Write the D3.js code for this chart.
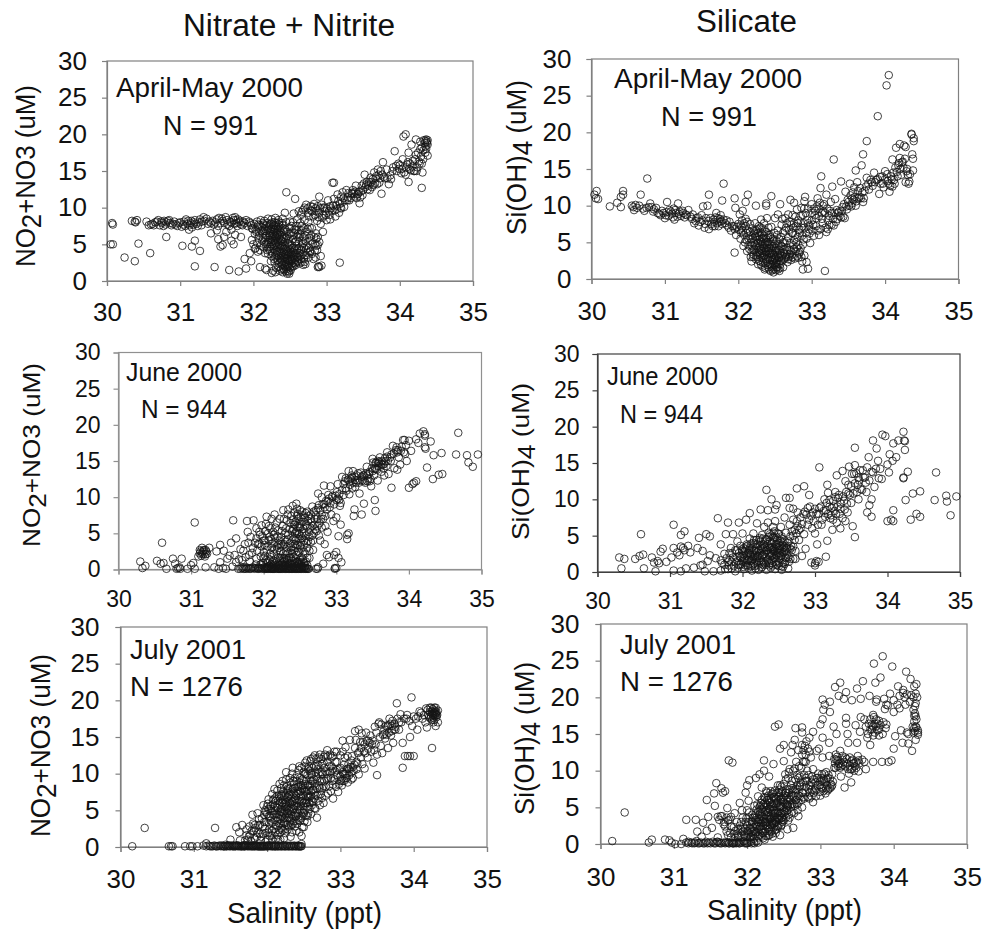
<!DOCTYPE html>
<html>
<head>
<meta charset="utf-8">
<script src="https://d3js.org/d3.v7.min.js"></script>
<style>
  html, body { margin: 0; padding: 0; background: #fff; }
  text { font-family: "Liberation Sans", Arial, sans-serif; fill: #111; }
</style>
</head>
<body>
<div id="chart"></div>
<script>
const xTicks = [30, 31, 32, 33, 34, 35];
const yTicks = [0, 5, 10, 15, 20, 25, 30];

// values: [salinity, concentration]
const aprNitrate = [
[30.07,7.9],[30.08,7.7],[30.05,5.0],[30.08,5.0],[30.24,3.2],[30.38,2.7],[30.34,8.2],[30.39,8.0],[30.41,8.3],[30.38,8.1],[30.43,5.1],[30.59,3.8],[30.54,8.1],[30.57,7.6],[30.6,7.7],
[30.62,7.8],[30.66,8.0],[30.7,8.3],[30.72,7.6],[30.75,7.9],[30.78,8.2],[30.8,7.7],[30.83,8.2],[30.86,7.9],[30.9,7.8],[30.94,7.7],[30.98,7.9],[31.02,7.4],[31.05,8.1],[31.08,8.4],[31.1,7.8],[31.13,7.6],[31.15,8.2],[31.12,7.0],[31.18,7.7],[31.2,8.3],[31.24,7.5],[31.27,8.4],[31.3,8.1],[31.32,8.7],[31.36,8.5],[31.4,8.1],[31.42,7.9],[31.46,7.7],[31.5,8.4],[31.53,8.6],[31.55,7.9],[31.58,8.2],[31.62,8.7],[31.65,7.7],[31.68,8.1],[31.72,8.6],[31.74,7.8],[31.76,8.3],[31.78,7.5],[31.8,8.0],[31.83,7.7],[31.86,8.1],[31.9,8.3],[31.92,7.5],[31.96,7.9],[31.98,7.2],
[30.81,6.0],[31.03,4.8],[31.16,4.7],[31.2,5.5],[31.27,4.1],[31.2,2.0],[31.47,1.9],[31.52,5.7],[31.55,4.7],[31.58,4.9],[31.6,6.0],[31.67,1.5],[31.7,5.5],[31.73,5.0],[31.75,6.3],[31.8,1.3],[31.83,6.0],[31.88,3.0],[31.9,1.7],[31.95,3.8],[31.97,2.7],[31.42,6.5],[31.5,6.9],[31.63,6.7],[31.7,7.0],
[32.01,7.8],[31.99,7.1],[32.02,6.4],[31.98,5.6],[32.0,5.0],[32.02,4.4],[32.05,8.1],[32.06,7.4],[32.04,6.7],[32.07,5.9],[32.05,5.2],[32.03,4.5],[32.06,4.0],[32.1,8.3],[32.09,7.6],[32.11,6.9],[32.08,6.2],[32.12,5.5],[32.1,4.8],[32.09,4.2],
[32.15,8.2],[32.14,7.7],[32.16,7.1],[32.13,6.5],[32.17,5.9],[32.15,5.3],[32.14,4.6],[32.16,3.8],[32.09,1.9],[32.2,8.5],[32.19,7.9],[32.21,7.3],[32.18,6.8],[32.22,6.2],[32.2,5.6],[32.19,5.0],[32.21,4.4],[32.2,3.7],[32.16,1.7],[32.18,1.5],
[32.25,8.4],[32.24,7.8],[32.26,7.4],[32.23,6.9],[32.27,6.4],[32.25,5.8],[32.24,5.3],[32.26,4.7],[32.23,4.1],[32.25,3.4],[32.24,2.7],[32.27,1.4],[32.25,1.1],
[32.3,8.6],[32.29,8.0],[32.31,7.5],[32.28,7.0],[32.32,6.5],[32.3,6.0],[32.29,5.5],[32.31,5.0],[32.28,4.4],[32.32,3.9],[32.3,3.2],[32.29,2.5],[32.31,1.8],[32.3,1.2],
[32.35,8.0],[32.34,7.4],[32.36,6.9],[32.33,6.3],[32.37,5.7],[32.35,5.1],[32.34,4.6],[32.36,4.1],[32.33,3.5],[32.37,3.0],[32.35,2.4],[32.34,1.9],[32.36,1.4],
[32.4,8.5],[32.39,7.9],[32.41,7.2],[32.38,6.6],[32.42,6.0],[32.4,5.4],[32.39,4.8],[32.41,4.3],[32.38,3.8],[32.42,3.2],[32.4,2.7],[32.39,2.2],[32.41,1.7],[32.4,1.2],
[32.45,8.0],[32.44,7.0],[32.46,6.1],[32.43,5.3],[32.47,4.6],[32.45,4.1],[32.44,3.6],[32.46,3.1],[32.43,2.6],[32.47,2.1],[32.45,1.6],[32.46,1.0],[32.43,9.3],[32.45,12.1],
[32.5,8.1],[32.49,7.3],[32.51,6.6],[32.48,5.7],[32.52,4.9],[32.5,4.3],[32.49,3.8],[32.51,3.3],[32.48,2.8],[32.52,2.3],[32.5,1.8],[32.49,1.3],
[32.55,9.2],[32.54,8.0],[32.56,7.0],[32.53,6.2],[32.57,5.3],[32.55,4.5],[32.54,3.9],[32.56,3.4],[32.53,2.9],[32.57,2.4],[32.55,2.0],[32.57,11.2],
[32.6,8.4],[32.59,7.5],[32.61,6.4],[32.58,5.4],[32.62,4.5],[32.6,3.8],[32.59,3.3],[32.61,2.7],[32.58,2.2],
[32.65,9.0],[32.64,7.9],[32.66,6.9],[32.63,5.9],[32.67,5.0],[32.65,4.2],[32.64,3.4],[32.66,2.6],[32.68,2.2],
[32.7,8.3],[32.69,7.2],[32.71,6.2],[32.68,5.2],[32.72,4.3],[32.7,3.5],[32.69,3.0],[32.71,2.3],
[32.75,8.0],[32.74,7.1],[32.76,5.9],[32.73,4.8],[32.77,4.0],[32.75,3.2],[32.8,7.2],[32.79,6.2],[32.81,5.1],[32.78,4.1],[32.82,3.0],[32.85,6.5],[32.84,5.0],[32.86,4.8],[32.85,3.2],[32.88,6.0],[32.89,2.0],[32.88,1.9],[32.9,1.9],[32.92,3.4],[32.93,2.1],[32.87,4.2],[32.9,5.3],[32.95,6.7],[33.18,2.5],
[32.62,9.5],[32.68,9.7],[32.72,10.4],[32.75,9.3],[32.78,10.2],[32.8,9.5],[32.82,8.8],[32.83,10.5],[32.85,9.9],[32.87,8.2],[32.88,10.2],[32.9,11.5],[32.9,9.3],[32.92,7.8],[32.95,10.0],[32.96,8.9],[32.98,9.5],[33.0,8.3],[33.02,11.0],[33.03,9.5],[33.05,8.4],[33.05,10.2],[33.08,13.4],[33.1,13.4],[33.08,9.6],[33.1,11.2],[33.12,8.8],[33.13,10.3],[33.15,11.8],[33.17,9.3],[33.18,10.5],[33.2,11.5],[33.2,9.9],[33.22,12.1],[33.24,10.1],[33.27,12.4],[33.28,11.0],[33.3,12.0],
[33.33,11.3],[33.35,11.9],[33.36,12.4],[33.38,11.5],[33.4,13.0],[33.42,11.8],[33.44,12.2],[33.45,10.6],[33.46,11.4],[33.48,13.0],[33.5,12.4],[33.52,14.5],[33.54,13.1],[33.56,12.5],[33.58,13.5],[33.6,14.1],[33.62,12.8],[33.63,13.9],[33.65,14.8],[33.66,13.3],[33.68,14.3],[33.7,15.2],[33.72,13.4],[33.75,11.9],[33.76,14.5],[33.77,16.2],[33.8,14.0],[33.82,15.2],[33.85,13.2],[33.88,13.9],[33.9,15.0],[33.93,17.7],[33.95,15.7],[33.98,16.0],[34.0,15.8],[34.02,14.7],[34.04,16.6],[34.05,19.7],[34.08,20.0],[34.08,14.5],[34.1,15.9],[34.12,13.5],[34.12,17.5],[34.14,16.0],[34.15,15.1],[34.16,18.6],[34.18,16.4],[34.2,15.0],[34.22,17.2],[34.22,19.3],[34.24,15.5],[34.26,16.3],[34.28,18.0],[34.28,19.0],[34.3,12.7],[34.3,16.0],[34.31,14.8],[34.32,17.8],[34.33,19.2],[34.35,18.3],[34.35,17.5],[34.36,19.3],[34.37,19.0],[34.38,17.1],[34.38,18.6]
];

// second pass over the dense parts of the same panel
const aprNitrateDense = [
[30.64,7.6],[30.68,8.1],[30.74,8.1],[30.77,7.5],[30.81,8.0],[30.85,8.3],[30.88,7.6],[30.92,8.1],[30.96,7.5],[31.0,8.0],[31.04,7.7],[31.07,7.5],[31.11,8.2],[31.14,7.9],[31.16,7.3],[31.19,8.0],[31.22,7.8],[31.26,8.0],[31.29,7.6],[31.33,8.2],[31.38,7.8],[31.44,8.2],[31.48,8.0],[31.52,7.5],[31.57,8.5],[31.6,7.9],[31.64,8.3],[31.67,7.5],[31.7,8.0],[31.73,8.3],[31.75,8.7],[31.77,7.9],[31.79,8.4],[31.82,8.2],[31.85,7.6],[31.88,7.9],[31.94,8.1],[31.97,7.6],
[32.03,7.0],[32.07,7.7],[32.08,6.6],[32.12,7.3],[32.13,5.9],[32.13,7.9],[32.15,6.8],[32.17,7.5],[32.17,5.0],[32.18,6.2],[32.19,4.2],[32.2,7.0],[32.2,5.3],[32.22,7.7],[32.22,6.5],[32.23,5.6],[32.23,4.7],[32.24,7.1],[32.25,6.1],[32.25,5.0],[32.26,3.8],[32.26,8.0],[32.27,6.7],[32.27,5.5],[32.28,7.6],[32.28,4.9],[32.28,3.0],[32.29,6.2],[32.29,7.2],[32.3,5.2],[32.3,6.8],[32.3,4.2],[32.31,5.8],[32.31,7.9],[32.31,3.6],[32.32,6.1],[32.32,4.7],[32.33,7.0],[32.33,5.4],[32.33,2.8],[32.34,6.6],[32.34,4.0],[32.34,8.3],[32.35,5.8],[32.35,3.2],[32.35,7.7],[32.36,4.9],[32.36,6.3],[32.37,2.6],[32.37,7.2],[32.37,4.4],[32.38,5.5],[32.38,3.4],[32.38,1.6],[32.39,6.2],[32.39,2.9],[32.4,7.6],[32.4,4.6],[32.4,3.6],[32.41,5.7],[32.41,2.3],[32.42,6.8],[32.42,4.0],[32.42,1.5],[32.43,3.0],[32.43,4.8],[32.43,2.0],[32.44,5.9],[32.44,3.3],[32.44,1.3],[32.45,2.4],[32.45,4.4],[32.45,6.7],[32.46,3.7],[32.46,1.9],[32.47,2.8],[32.47,5.2],[32.47,1.3],[32.48,3.5],[32.48,2.0],[32.48,4.0],[32.49,6.4],[32.49,2.5],[32.49,1.0],[32.5,3.0],[32.5,5.0],[32.51,3.9],[32.51,1.5],[32.52,2.7],[32.52,3.6],[32.52,7.5],[32.53,4.5],[32.53,2.0],[32.54,3.1],[32.54,5.7],[32.55,2.5],[32.55,3.6],[32.56,4.2],[32.56,6.5],[32.57,2.9],[32.57,3.8],[32.58,7.0],[32.58,4.8],[32.59,2.6],[32.6,4.2],[32.6,6.0],[32.61,3.2],[32.62,5.3],[32.62,7.0],[32.63,3.8],[32.63,2.4],[32.64,6.4],[32.65,3.0],[32.66,4.7],[32.66,7.5],[32.67,3.7],[32.68,6.0],[32.69,4.5],[32.7,2.6],[32.71,5.5],[32.72,3.5],[32.73,6.7],[32.74,3.9],[32.76,4.5],[32.77,7.3],[32.78,5.5],[32.8,3.7],[32.83,6.0],[32.84,4.2],[32.86,5.8],[32.88,4.9],
[32.66,9.4],[32.7,10.0],[32.74,9.9],[32.76,8.8],[32.79,9.6],[32.81,10.1],[32.84,9.0],[32.86,9.5],[32.89,8.7],[32.91,9.9],[32.93,10.4],[32.94,8.6],[32.97,10.0],[32.99,9.0],[33.0,9.9],[33.04,9.0],[33.06,9.9],[33.09,10.3],[33.11,9.6],[33.14,9.8],[33.16,10.9],[33.19,10.0],[33.21,10.7],[33.23,11.3],[33.25,11.0],[33.29,11.4],[33.31,11.0],[33.34,12.0],[33.37,11.9],[33.39,12.2],[33.41,11.3],[33.43,11.9],[33.47,12.2],[33.49,11.7],[33.51,13.3],[33.53,12.8],[33.55,13.5],[33.57,13.0],[33.59,12.4],[33.61,13.5],[33.64,13.1],[33.67,14.0],[33.69,13.2],[33.71,14.5],[33.73,14.0],[33.74,15.0],[33.78,14.2],[33.83,14.0],[33.87,14.4],[33.91,15.5],[33.96,15.0],[33.99,15.3],[34.03,15.3],[34.06,14.8],[34.09,15.5],[34.11,16.2],[34.13,15.3],[34.17,15.6],[34.19,15.0],[34.21,16.6],[34.23,15.0],[34.25,17.5],[34.27,16.0],[34.29,17.0],[34.3,18.2],[34.32,16.6],[34.34,18.8],[34.35,19.1],[34.36,18.0],[34.37,18.8],[34.38,19.2]
];

const aprSilicate = [
[30.04,11.5],[30.07,12.0],[30.06,11.0],[30.09,10.9],[30.25,9.9],[30.35,10.4],[30.4,9.8],[30.4,11.2],[30.43,11.5],[30.43,12.0],[30.55,10.0],[30.57,9.8],[30.58,9.4],[30.62,9.7],[30.67,11.5],[30.76,13.7],[30.6,10.1],[30.65,10.0],[30.7,9.6],[30.72,9.3],[30.75,9.7],[30.8,10.3],[30.82,9.8],[30.85,9.5],[30.9,9.0],[30.92,8.9],[30.96,9.3],[31.0,8.3],[31.02,9.1],[31.03,10.5],[31.06,9.4],[31.1,8.9],[31.12,9.6],[31.13,8.1],[31.15,9.0],[31.18,10.3],[31.2,9.2],[31.22,8.6],[31.25,9.0],[31.28,8.8],[31.32,9.4],[31.35,8.5],[31.38,8.8],[31.4,7.6],[31.43,8.3],[31.46,7.3],[31.5,8.7],[31.52,9.9],[31.54,7.0],[31.56,8.3],[31.58,10.0],[31.6,11.5],[31.6,6.8],[31.63,7.5],[31.66,8.1],[31.68,7.2],[31.7,9.0],[31.72,8.3],[31.74,7.8],[31.76,8.7],[31.78,7.5],[31.8,8.1],[31.78,10.7],[31.8,13.0],[31.85,7.3],[31.88,7.8],[31.9,6.6],[31.94,7.2],[31.95,11.0],[31.96,9.7],[31.97,6.0],[31.95,3.6],[32.0,7.5],[32.02,8.8],[32.04,6.3],[32.05,8.0],[32.1,10.5],[32.13,11.5],[32.06,9.3],
[32.03,5.5],[32.05,7.0],[32.07,4.5],[32.08,6.0],[32.1,8.2],[32.1,7.2],[32.11,5.3],[32.12,3.8],[32.13,6.6],[32.14,4.6],[32.15,5.9],[32.16,7.5],[32.17,3.0],[32.17,5.0],[32.18,2.4],[32.19,6.9],[32.2,4.0],[32.2,5.6],[32.21,3.3],[32.22,6.2],[32.23,7.6],[32.23,4.7],[32.24,2.7],[32.24,10.0],[32.25,5.3],[32.25,3.6],[32.26,6.8],[32.27,2.0],[32.27,4.2],[32.28,5.9],[32.28,7.2],[32.29,3.2],[32.3,4.8],[32.3,6.4],[32.3,2.4],[32.31,8.1],[32.32,5.5],[32.32,3.8],[32.33,1.7],[32.33,6.9],[32.34,4.4],[32.34,2.9],[32.35,5.9],[32.35,7.6],[32.36,3.3],[32.36,1.3],[32.37,5.0],[32.37,2.2],[32.38,6.4],[32.38,10.3],[32.38,10.0],[32.38,3.9],[32.39,8.3],[32.39,4.6],[32.4,2.7],[32.4,5.6],[32.41,1.6],[32.41,7.0],[32.42,3.4],[32.42,4.2],[32.43,6.0],[32.43,2.1],[32.44,1.1],[32.44,5.0],[32.45,3.0],[32.45,7.1],[32.45,11.3],[32.46,3.8],[32.46,1.6],[32.47,5.5],[32.47,2.5],[32.48,4.5],[32.48,0.9],[32.49,6.3],[32.49,3.3],[32.5,1.9],[32.5,8.3],[32.5,2.8],[32.51,4.0],[32.51,1.2],[32.52,5.2],[32.52,2.2],[32.53,3.5],[32.53,1.6],[32.54,6.6],[32.54,8.8],[32.55,2.9],[32.55,4.7],[32.56,1.1],[32.56,3.9],[32.57,10.2],[32.57,2.0],[32.58,5.7],[32.58,3.2],[32.59,7.4],[32.6,4.4],[32.6,2.5],[32.61,1.6],[32.61,6.3],[32.62,3.6],[32.63,5.0],[32.64,2.9],[32.64,8.3],[32.65,7.0],[32.66,3.4],[32.66,4.3],[32.67,2.3],[32.68,5.6],[32.69,3.0],[32.7,7.8],[32.7,4.0],[32.71,10.8],[32.72,2.6],[32.73,6.3],[32.73,3.3],[32.74,8.7],[32.75,4.6],[32.76,5.3],[32.76,10.4],[32.77,2.8],[32.78,3.8],[32.79,7.2],[32.8,9.5],[32.8,4.3],[32.81,5.7],[32.82,2.9],[32.83,3.5],[32.84,6.3],[32.85,8.6],[32.85,4.2],[32.86,9.7],[32.87,2.4],[32.88,1.3],[32.88,4.7],[32.89,7.6],[32.9,3.2],[32.9,10.6],[32.91,11.2],[32.93,2.3],[32.92,9.0],[32.95,1.4],[32.93,5.5],[32.96,6.8],[32.98,4.9],[33.0,10.2],[33.0,8.0],[33.03,5.9],[33.05,9.3],[33.06,7.2],[33.08,11.0],[33.1,6.0],[33.1,8.6],[33.12,12.4],[33.13,14.0],[33.14,9.0],[33.15,7.6],[33.17,10.2],[33.18,1.1],[33.2,11.5],[33.2,6.4],[33.22,8.0],[33.25,9.3],[33.26,10.5],[33.28,12.6],[33.3,16.3],[33.3,7.3],[33.32,10.9],[33.35,8.2],[33.37,9.2],[33.4,13.3],[33.4,8.4],[33.42,9.8],[33.45,8.3],[33.46,11.9],[33.48,9.5],[33.5,10.5],[33.52,13.0],[33.54,9.9],[33.55,11.0],[33.56,11.8],[33.58,12.5],[33.6,10.0],[33.6,14.8],[33.62,13.2],[33.64,11.0],[33.66,12.4],[33.68,15.5],[33.7,17.0],[33.7,10.5],[33.72,12.0],[33.75,13.8],[33.75,18.8],[33.78,12.2],[33.82,13.2],[33.85,14.5],[33.88,13.5],[33.9,22.2],[33.92,11.6],[33.94,13.0],[33.96,14.0],[33.98,12.5],[34.0,14.7],[34.02,26.4],[34.04,13.4],[34.05,27.8],[34.06,11.9],[34.08,14.0],[34.1,12.6],[34.1,16.3],[34.12,13.5],[34.15,17.9],[34.16,14.6],[34.18,15.5],[34.2,18.4],[34.2,16.5],[34.22,14.2],[34.24,16.0],[34.26,18.2],[34.28,13.2],[34.28,18.0],[34.3,15.0],[34.32,13.0],[34.34,14.3],[34.36,19.8],[34.36,19.7],[34.37,17.0],[34.38,16.4],[34.38,14.8],[34.39,19.2],[34.39,18.8]
];

const aprSilicateDense = [
[30.78,9.8],[30.84,9.2],[30.88,9.7],[30.94,8.7],[30.98,9.0],[31.01,8.7],[31.05,8.6],[31.08,9.2],[31.11,8.4],[31.14,9.4],[31.17,8.5],[31.19,8.9],[31.24,9.3],[31.27,8.4],[31.3,8.7],[31.37,8.2],[31.42,7.9],[31.45,8.4],[31.48,7.8],[31.51,8.0],[31.55,7.5],[31.59,7.9],[31.62,8.3],[31.65,7.2],[31.67,7.8],[31.69,8.4],[31.71,7.6],[31.73,7.2],[31.75,8.2],[31.77,7.9],[31.82,7.6],[31.84,8.0],[31.87,7.0],[31.92,7.2],[31.95,6.8],[31.98,7.1],[32.01,6.7],[32.03,7.3],[32.06,6.6],[32.08,7.6],[32.09,5.0],[32.11,6.3],[32.12,7.8],[32.14,5.5],[32.15,4.1],[32.16,6.4],[32.18,3.7],[32.18,5.4],[32.19,4.5],[32.2,3.0],[32.21,6.5],[32.21,5.0],[32.22,4.0],[32.23,5.8],[32.24,3.2],[32.24,6.6],[32.25,4.5],[32.26,5.7],[32.26,3.0],[32.27,4.9],[32.27,6.3],[32.28,3.7],[32.28,2.5],[32.29,5.4],[32.29,4.3],[32.3,7.0],[32.3,3.5],[32.31,5.1],[32.31,4.1],[32.31,1.9],[32.32,6.2],[32.32,3.0],[32.33,4.8],[32.33,3.6],[32.34,5.5],[32.34,2.2],[32.35,4.2],[32.35,3.2],[32.36,6.5],[32.36,4.8],[32.37,3.7],[32.37,1.5],[32.38,5.4],[32.38,2.7],[32.39,4.2],[32.39,3.3],[32.4,5.0],[32.4,1.9],[32.41,3.8],[32.41,6.0],[32.41,2.9],[32.42,4.8],[32.42,1.3],[32.43,3.5],[32.43,2.6],[32.44,4.2],[32.44,5.7],[32.45,1.9],[32.45,3.5],[32.46,2.6],[32.46,4.5],[32.47,1.2],[32.47,3.3],[32.48,2.0],[32.48,5.2],[32.49,2.7],[32.49,1.4],[32.5,3.8],[32.5,4.8],[32.51,2.2],[32.51,3.0],[32.52,1.6],[32.52,4.2],[32.53,2.5],[32.53,6.0],[32.54,3.3],[32.54,1.3],[32.55,4.0],[32.55,2.1],[32.56,5.4],[32.56,2.9],[32.57,1.5],[32.57,3.6],[32.58,4.5],[32.58,2.5],[32.6,3.2],[32.61,5.0],[32.62,2.7],[32.63,4.0],[32.65,3.0],[32.66,5.2],[32.67,3.9],[32.68,2.7],[32.7,3.4],[32.71,4.9],[32.72,3.8],[32.74,3.0],[32.75,7.0],[32.76,4.1],[32.78,6.0],[32.8,3.1],[32.81,7.6],[32.82,4.6],[32.84,3.7],[32.86,7.0],[32.86,3.0],[32.88,8.7],[32.89,5.4],[32.9,9.6],[32.92,6.3],[32.94,8.0],[32.95,9.6],[32.97,7.3],[33.0,9.0],[33.02,7.4],[33.04,8.7],[33.06,8.3],[33.08,6.6],[33.1,9.6],[33.12,6.8],[33.14,8.2],[33.16,9.2],[33.19,7.0],[33.22,6.8],[33.24,8.6],[33.27,7.4],[33.29,8.2],[33.31,9.0],[33.33,7.8],[33.36,9.0],[33.38,8.6],[33.41,9.3],[33.43,8.5],[33.44,10.2],[33.47,9.9],[33.49,10.8],[33.51,10.0],[33.53,11.4],[33.55,10.3],[33.57,10.8],[33.59,11.2],[33.61,10.6],[33.63,12.0],[33.65,11.2],[33.67,11.0],[33.69,11.8],[33.71,11.0],[33.74,12.6],[33.77,13.0],[33.8,13.5],[33.83,12.7],[33.86,13.2],[33.9,13.6],[33.93,13.9],[33.97,13.0],[34.0,13.6],[34.03,14.3],[34.05,13.0],[34.07,12.7],[34.09,13.6],[34.11,14.5],[34.13,13.0],[34.14,15.2],[34.17,14.0],[34.19,15.8],[34.21,15.0],[34.23,15.9],[34.25,15.2],[34.27,16.4],[34.29,14.7],[34.31,14.2],[34.33,13.3],
[32.6,8.2],[32.63,6.6],[32.66,7.6],[32.68,8.8],[32.69,6.7],[32.72,7.4],[32.74,6.2],[32.76,7.6],[32.78,8.5],[32.79,5.0],[32.82,8.0],[32.83,6.7],[32.87,5.9],[32.9,7.0],[32.95,7.6],[32.97,6.2],[33.01,6.6],[33.03,9.6],[33.07,9.9],[33.11,10.4],[33.15,10.0],[33.18,9.0],[33.21,9.6],[33.24,7.4],[33.27,9.0],[33.34,9.4]
];

const junNitrate = [
[30.3,1.1],[30.33,0.2],[30.37,0.5],[30.53,1.2],[30.58,0.8],[30.6,3.7],[30.62,0.9],[30.66,0.1],[30.75,1.5],[30.78,0.8],[30.82,0.2],[30.85,0.1],[30.87,1.5],[30.95,0.1],[31.0,0.6],[31.03,0.9],[31.05,0.1],[31.05,6.5],[31.1,1.8],[31.13,2.5],[31.15,3.0],[31.17,2.1],[31.2,0.3],[31.2,2.7],[31.22,2.2],[31.25,3.0],[31.32,0.3],[31.35,2.5],[31.38,0.1],[31.4,1.0],[31.4,3.4],[31.44,0.2],[31.48,0.1],[31.5,1.5],[31.53,1.9],[31.55,3.7],[31.57,0.4],[31.58,6.8],[31.62,4.3],[31.62,1.0],[31.65,0.1],[31.68,2.8],[31.7,1.3],[31.72,0.1],[31.74,3.5],[31.76,0.1],[31.77,6.7],[31.78,5.2],[31.8,2.0],[31.82,4.5],[31.83,0.2],[31.85,3.0],[31.86,6.8],[31.87,0.1],[31.9,5.7],[31.9,1.5],[31.92,3.5],[31.93,0.1],[31.95,4.8],[31.96,0.7],[31.97,6.1],[32.0,2.4],[32.0,0.1],[32.0,4.0],[32.02,5.3],[32.03,1.3],[32.04,7.3],[32.05,3.2],[32.05,0.1],[32.07,6.0],[32.08,4.5],[32.08,0.5],[32.09,2.2],[32.1,0.1],[32.11,7.0],[32.12,3.6],[32.12,1.0],[32.13,5.2],[32.14,0.1],[32.15,7.6],[32.15,2.8],[32.16,4.4],[32.17,0.6],[32.18,6.5],[32.18,0.1],[32.2,1.7],[32.2,3.4],[32.2,5.4],[32.22,0.1],[32.22,7.0],[32.23,2.5],[32.24,4.5],[32.25,0.8],[32.25,0.1],[32.26,6.0],[32.27,8.2],[32.28,1.5],[32.28,3.5],[32.3,0.1],[32.3,5.0],[32.31,2.5],[32.32,6.8],[32.33,0.5],[32.33,4.2],[32.34,8.3],[32.35,0.1],[32.35,1.6],[32.36,5.6],[32.37,3.0],[32.38,7.4],[32.38,0.1],[32.39,2.2],[32.4,4.5],[32.4,8.8],[32.41,0.7],[32.42,6.2],[32.42,0.1],[32.43,3.5],[32.44,1.5],[32.45,5.3],[32.45,9.1],[32.45,0.1],[32.46,7.4],[32.47,2.5],[32.48,4.2],[32.48,0.1],[32.49,0.9],[32.5,6.3],[32.5,8.2],[32.5,3.2],[32.51,0.1],[32.52,1.7],[32.53,5.1],[32.54,0.4],[32.54,7.5],[32.55,2.5],[32.55,0.1],[32.56,4.0],[32.58,6.2],[32.58,0.1],[32.58,1.1],[32.6,8.0],[32.6,3.0],[32.62,0.1],[32.62,5.2],[32.63,1.6],[32.65,7.0],[32.65,3.8],[32.67,4.7],[32.67,8.7],[32.68,2.7],[32.7,6.2],[32.72,0.1],[32.72,7.5],[32.73,5.3],[32.75,0.3],[32.75,8.5],[32.75,10.5],[32.77,6.4],[32.78,4.0],[32.8,10.0],[32.8,7.5],[32.82,0.8],[32.83,9.0],[32.83,11.6],[32.84,3.5],[32.85,6.0],[32.87,2.0],[32.87,8.3],[32.88,5.2],[32.9,9.8],[32.9,1.7],[32.92,11.5],[32.93,7.6],[32.95,10.2],[32.96,6.7],[32.97,2.0],[32.98,0.1],[33.0,0.2],[33.0,2.4],[33.0,9.6],[33.0,7.2],[33.01,10.7],[33.02,11.8],[33.03,1.6],[33.03,4.6],[33.05,8.8],[33.06,6.2],[33.07,1.0],[33.08,12.8],[33.1,10.3],[33.13,11.2],[33.15,4.8],[33.15,4.2],[33.17,5.0],[33.17,13.6],[33.18,10.4],[33.2,12.5],[33.22,11.2],[33.23,13.6],[33.24,7.4],[33.25,8.3],[33.27,12.0],[33.3,13.3],[33.32,10.5],[33.33,12.3],[33.35,7.6],[33.37,13.0],[33.38,9.1],[33.4,12.0],[33.42,14.2],[33.44,12.6],[33.46,13.5],[33.48,11.5],[33.5,15.3],[33.52,13.0],[33.53,9.6],[33.54,8.1],[33.55,14.8],[33.57,12.3],[33.58,14.3],[33.6,15.5],[33.62,13.5],[33.64,14.5],[33.66,13.0],[33.68,15.0],[33.7,16.2],[33.72,13.2],[33.74,15.5],[33.76,11.3],[33.78,17.1],[33.8,14.0],[33.82,16.5],[33.84,13.8],[33.86,15.5],[33.88,14.5],[33.9,17.0],[33.92,17.9],[33.95,16.0],[33.97,15.0],[34.0,17.8],[34.0,11.3],[34.03,16.4],[34.05,11.8],[34.07,12.0],[34.1,18.0],[34.1,12.2],[34.13,17.5],[34.15,18.8],[34.2,19.1],[34.22,18.7],[34.22,18.5],[34.22,16.9],[34.23,16.7],[34.25,14.1],[34.3,17.7],[34.33,12.5],[34.34,15.8],[34.41,13.1],[34.46,13.2],[34.45,16.1],[34.65,15.9],[34.68,18.9],[34.8,15.8],[34.82,14.8],[34.88,14.2],[34.95,15.9],
[31.7,0.2],[31.74,0.1],[31.78,0.2],[31.82,0.1],[31.88,0.2],[31.92,0.1],[31.95,0.2],[31.98,0.2],[32.02,0.1],[32.04,0.2],[32.06,0.2],[32.09,0.1],[32.11,0.2],[32.13,0.1],[32.16,0.2],[32.19,0.2],[32.21,0.1],[32.24,0.2],[32.27,0.2],[32.29,0.1],[32.32,0.2],[32.34,0.1],[32.37,0.2],[32.4,0.1],[32.43,0.2],[32.46,0.1],[32.49,0.2],[32.52,0.1],[32.56,0.2],[32.6,0.1],[30.8,0.1],[30.84,0.3],[32.74,0.1],[32.98,0.2]
];

const junNitrateDense = [
[31.12,2.2],[31.14,1.9],[31.16,2.4],[31.18,2.7],[31.19,1.8],[31.21,2.5],[31.45,2.6],[31.6,2.0],[31.66,1.4],[31.72,2.6],[31.75,1.7],[31.79,3.7],[31.81,1.1],[31.84,2.3],[31.88,3.7],[31.89,0.7],[31.91,2.6],[31.94,5.2],[31.96,1.8],[31.97,3.2],[31.99,0.9],[32.01,3.4],[32.02,1.9],[32.03,6.3],[32.04,2.7],[32.06,1.1],[32.07,4.0],[32.09,5.7],[32.1,1.7],[32.11,3.0],[32.13,0.7],[32.14,2.1],[32.15,3.7],[32.16,5.8],[32.17,1.4],[32.18,2.6],[32.19,4.6],[32.21,0.6],[32.21,3.0],[32.23,1.6],[32.24,3.5],[32.25,5.3],[32.26,1.0],[32.27,2.2],[32.28,7.0],[32.29,0.6],[32.29,4.1],[32.3,2.0],[32.31,5.7],[32.32,1.3],[32.32,3.1],[32.33,7.6],[32.34,2.3],[32.34,4.8],[32.35,0.8],[32.36,3.6],[32.37,6.4],[32.37,1.6],[32.38,2.7],[32.39,5.3],[32.39,0.6],[32.4,3.2],[32.4,6.8],[32.41,1.7],[32.41,4.2],[32.42,2.6],[32.42,7.9],[32.43,5.0],[32.43,0.9],[32.44,3.0],[32.44,6.6],[32.45,2.0],[32.45,4.3],[32.46,1.0],[32.46,8.4],[32.47,5.8],[32.47,3.4],[32.48,0.7],[32.48,7.0],[32.49,2.4],[32.49,4.9],[32.5,1.3],[32.5,5.8],[32.51,3.7],[32.51,7.2],[32.52,0.6],[32.52,2.9],[32.53,4.3],[32.53,6.6],[32.54,1.4],[32.55,3.4],[32.55,5.6],[32.56,0.9],[32.57,2.2],[32.57,7.2],[32.58,4.7],[32.6,1.6],[32.6,6.0],[32.61,3.9],[32.62,7.4],[32.63,2.6],[32.64,5.8],[32.66,6.5],[32.68,4.0],[32.69,8.0],[32.71,5.5],[32.74,7.0],[32.76,4.7],[32.78,8.2],[32.8,5.8],[32.82,7.0],[32.84,8.6],[32.86,9.5],[32.89,10.3],[32.91,8.6],[32.94,10.0],[32.97,9.0],[32.99,10.2],[33.02,9.8],[33.04,10.4],[33.06,9.2],[33.12,12.2],[33.14,10.9],[33.16,12.4],[33.19,11.7],[33.21,13.0],[33.23,12.0],[33.25,12.8],[33.26,11.4],[33.28,13.0],[33.29,12.3],[33.31,12.0],[33.34,13.4],[33.36,12.3],[33.38,13.0],[33.39,12.2],[33.41,13.3],[33.43,12.2],[33.45,13.2],[33.47,12.5],[33.49,14.0],[33.51,14.8],[33.53,14.0],[33.54,14.7],[33.56,13.8],[33.57,15.0],[33.59,14.9],[33.61,14.2],[33.63,15.0],[33.65,14.0],[33.67,15.4],[33.69,14.3],[33.71,15.0],[33.75,15.0],[33.79,16.0],[33.83,16.9],[33.85,16.5],[33.89,16.4],[33.93,16.2],[33.94,17.9],[33.96,17.2],
[31.68,0.1],[31.72,0.3],[31.76,0.3],[31.8,0.1],[31.85,0.3],[31.9,0.2],[31.93,0.3],[31.97,0.1],[32.01,0.3],[32.03,0.1],[32.05,0.3],[32.07,0.1],[32.1,0.3],[32.12,0.1],[32.15,0.1],[32.17,0.3],[32.2,0.1],[32.23,0.1],[32.26,0.1],[32.28,0.3],[32.31,0.1],[32.33,0.2],[32.36,0.1],[32.39,0.1],[32.41,0.3],[32.44,0.1],[32.47,0.2],[32.5,0.1],[32.53,0.2],[32.55,0.2],[32.57,0.1],[32.59,0.2],[32.61,0.1],
[31.98,0.6],[32.0,1.6],[32.04,0.9],[32.06,0.4],[32.08,1.4],[32.1,0.7],[32.12,0.4],[32.14,1.2],[32.16,0.5],[32.18,1.0],[32.2,0.5],[32.22,1.2],[32.24,0.4],[32.25,1.6],[32.27,0.5],[32.29,1.2],[32.3,0.5],[32.31,1.6],[32.33,0.9],[32.35,0.4],[32.37,0.8],[32.39,1.2],[32.41,0.4],[32.43,1.2],[32.45,0.5],[32.47,1.1],[32.49,0.4],[32.51,1.0],[32.53,0.4],[32.55,1.0],[32.57,0.5],[32.6,0.6],[32.41,5.6],[32.43,6.2],[32.44,4.0],[32.46,5.0],[32.47,7.7],[32.49,6.0],[32.51,4.6],[32.53,8.0],[32.55,6.6],[32.56,5.0],[32.58,7.8],[32.59,3.7],[32.61,6.7],[32.63,4.5],[32.65,7.6],[32.67,6.0],[32.69,5.0],[32.7,7.0],[32.72,8.2],[32.74,6.0],[32.76,8.9],[32.79,7.0],[32.81,9.0],[32.85,7.4],[32.88,9.4],[32.92,9.2],[33.04,9.6],[33.08,11.0],[33.1,11.8],[33.13,12.6],[33.18,12.2],[33.22,12.7],[33.26,12.4],[33.35,12.8],[33.42,13.0],[33.46,12.2],[33.5,13.6],[33.54,13.9],[33.58,14.7],[33.62,14.6],[33.66,14.6],[33.7,15.6],[33.76,15.9],[33.84,16.2],
[31.12,2.7],[31.15,2.2],[31.17,2.6],[31.2,2.1],[31.9,4.3],[31.94,3.6],[31.98,4.6],[32.02,4.0],[32.06,5.0],[32.1,4.2],[32.14,4.8],[32.18,3.2],[32.22,4.0],[32.26,3.3],[32.3,3.8]
];

const junSilicate = [
[30.3,2.0],[30.37,1.8],[30.33,0.5],[30.52,1.8],[30.58,2.2],[30.6,5.2],[30.63,2.4],[30.64,0.5],[30.75,2.0],[30.78,1.3],[30.8,0.1],[30.83,1.5],[30.85,1.2],[30.87,2.8],[30.9,3.2],[30.95,1.4],[31.02,2.0],[31.05,3.3],[31.05,6.5],[31.05,0.2],[31.1,2.7],[31.13,2.3],[31.15,3.5],[31.15,5.1],[31.18,3.3],[31.2,5.6],[31.2,3.0],[31.22,0.5],[31.15,0.1],[31.25,3.6],[31.28,2.7],[31.33,0.6],[31.38,3.3],[31.4,4.7],[31.42,0.9],[31.45,2.9],[31.45,1.0],[31.48,0.1],[31.5,5.2],[31.52,1.5],[31.55,2.3],[31.55,4.9],[31.6,0.1],[31.63,1.9],[31.66,7.4],[31.7,0.2],[31.7,3.8],[31.72,1.2],[31.75,2.5],[31.77,5.2],[31.8,0.4],[31.8,6.8],[31.82,1.6],[31.84,3.3],[31.87,5.2],[31.9,0.1],[31.92,2.0],[31.93,4.2],[31.95,6.8],[31.97,1.0],[32.0,2.9],[32.0,5.3],[32.02,0.4],[32.03,1.9],[32.05,7.2],[32.05,3.5],[32.07,0.9],[32.08,2.6],[32.1,8.1],[32.1,4.6],[32.11,1.5],[32.13,0.2],[32.13,3.3],[32.15,5.3],[32.15,2.1],[32.17,0.8],[32.18,3.8],[32.2,1.4],[32.2,2.7],[32.2,6.7],[32.22,0.3],[32.23,4.4],[32.24,1.9],[32.25,8.6],[32.25,3.2],[32.27,0.7],[32.27,5.1],[32.28,2.4],[32.29,3.8],[32.3,1.2],[32.3,6.2],[32.32,2.8],[32.33,11.3],[32.33,0.3],[32.34,4.5],[32.35,1.7],[32.35,8.5],[32.35,6.8],[32.36,3.4],[32.38,2.2],[32.38,5.2],[32.39,0.6],[32.4,4.0],[32.4,10.0],[32.41,1.2],[32.42,3.0],[32.42,6.2],[32.43,2.0],[32.44,4.7],[32.45,0.4],[32.45,7.0],[32.45,8.6],[32.46,3.5],[32.47,9.2],[32.47,1.5],[32.48,2.6],[32.49,5.3],[32.5,0.8],[32.5,4.0],[32.51,3.0],[32.52,1.9],[32.53,6.2],[32.54,0.3],[32.54,4.6],[32.55,2.4],[32.57,3.4],[32.58,7.5],[32.58,1.1],[32.6,5.4],[32.6,2.8],[32.6,10.2],[32.62,4.0],[32.63,2.0],[32.65,8.8],[32.65,6.5],[32.65,10.2],[32.67,3.6],[32.7,1.8],[32.7,5.0],[32.7,7.2],[32.7,8.7],[32.73,1.8],[32.73,2.9],[32.75,11.5],[32.76,6.3],[32.78,4.4],[32.8,7.5],[32.82,2.2],[32.85,11.8],[32.85,5.2],[32.87,3.2],[32.88,7.9],[32.9,6.5],[32.92,10.6],[32.93,9.0],[32.95,1.3],[32.96,6.0],[32.97,8.2],[33.0,0.9],[33.0,1.2],[33.0,5.3],[33.0,8.7],[33.02,1.5],[33.03,3.8],[33.04,6.5],[33.05,1.4],[33.05,8.0],[33.06,14.4],[33.08,9.0],[33.1,7.2],[33.13,10.0],[33.15,2.1],[33.15,8.5],[33.17,12.0],[33.17,4.3],[33.18,10.9],[33.2,9.0],[33.22,7.8],[33.24,5.8],[33.25,9.8],[33.27,8.4],[33.28,11.0],[33.3,13.3],[33.3,6.8],[33.32,10.2],[33.35,6.0],[33.35,8.7],[33.38,13.9],[33.4,9.8],[33.42,12.5],[33.42,7.0],[33.45,8.2],[33.46,10.8],[33.47,14.5],[33.5,9.5],[33.52,6.3],[33.54,13.5],[33.55,4.8],[33.55,14.7],[33.55,17.1],[33.58,11.0],[33.6,13.0],[33.6,10.0],[33.62,14.0],[33.65,11.3],[33.67,13.0],[33.7,12.3],[33.72,14.4],[33.72,8.2],[33.74,15.8],[33.75,9.2],[33.78,7.6],[33.78,10.0],[33.78,13.8],[33.8,18.1],[33.82,11.7],[33.85,17.0],[33.87,15.3],[33.9,14.2],[33.92,12.8],[33.93,18.9],[33.97,18.7],[34.0,14.8],[34.0,7.0],[34.02,13.7],[34.03,16.2],[34.05,7.2],[34.07,15.3],[34.08,7.0],[34.08,17.7],[34.12,15.8],[34.08,8.5],[34.15,18.1],[34.22,19.3],[34.23,18.1],[34.24,18.0],[34.24,16.8],[34.22,13.0],[34.22,12.9],[34.25,9.9],[34.28,13.8],[34.32,7.2],[34.35,10.8],[34.4,8.0],[34.45,7.6],[34.45,11.1],[34.65,9.9],[34.67,13.7],[34.81,10.5],[34.82,9.7],[34.87,7.8],[34.95,10.4],
[31.95,1.0],[31.98,2.0],[32.0,1.5],[32.02,2.4],[32.04,3.1],[32.06,1.7],[32.09,3.0],[32.12,2.2],[32.14,1.0],[32.16,2.9],[32.18,1.6],[32.19,4.4],[32.21,2.2],[32.24,3.6],[32.26,1.4],[32.28,4.6],[32.31,3.4],[32.33,2.0],[32.36,4.8],[32.37,0.9],[32.39,3.4],[32.41,2.4],[32.43,5.4],[32.45,2.9],[32.46,1.0],[32.48,3.7],[32.5,2.1],[32.52,4.3],[32.55,3.2],[32.56,1.3],[32.59,2.0],[32.61,3.3],[32.63,0.5],[32.66,4.9],[32.68,3.0],[32.72,5.8]
];

const junSilicateDense = [
[31.75,1.0],[31.78,1.9],[31.81,0.9],[31.85,1.4],[31.86,2.6],[31.88,0.8],[31.91,1.3],[31.92,3.0],[31.94,0.6],[31.96,2.2],[31.98,1.1],[31.99,3.1],[32.01,0.7],[32.02,1.6],[32.03,2.8],[32.05,1.2],[32.06,2.3],[32.07,3.6],[32.08,0.6],[32.09,1.8],[32.1,3.3],[32.11,2.4],[32.12,0.8],[32.13,1.6],[32.14,2.7],[32.15,4.0],[32.16,1.2],[32.17,2.2],[32.18,0.5],[32.19,3.3],[32.2,2.0],[32.21,1.0],[32.22,3.0],[32.23,1.5],[32.24,2.6],[32.25,4.2],[32.26,0.6],[32.27,2.2],[32.28,3.3],[32.29,1.4],[32.3,2.5],[32.31,4.2],[32.32,1.0],[32.33,3.0],[32.34,1.6],[32.35,3.8],[32.36,2.4],[32.36,5.4],[32.37,1.2],[32.38,4.2],[32.39,2.6],[32.4,5.0],[32.4,1.6],[32.41,3.4],[32.42,0.9],[32.43,4.2],[32.43,2.8],[32.44,5.6],[32.45,1.9],[32.46,3.8],[32.47,4.8],[32.47,2.3],[32.48,1.0],[32.49,3.2],[32.5,5.2],[32.5,2.6],[32.51,1.3],[32.52,3.6],[32.53,2.2],[32.54,4.9],[32.55,3.7],[32.56,0.7],[32.57,2.7],[32.58,4.3],[32.59,1.4],[32.6,3.6],[32.62,2.5],[32.64,4.2],[32.66,1.8],[32.68,5.6],[32.72,4.4],[32.75,7.0],[32.78,5.8],[32.82,6.6],[32.84,8.0],[32.9,8.8],[32.95,7.7],[33.02,8.0],[33.06,8.8],[33.09,6.5],[33.12,8.4],[33.14,7.6],[33.16,9.5],[33.18,8.0],[33.2,9.9],[33.21,7.4],[33.23,8.8],[33.25,7.2],[33.26,9.0],[33.28,10.3],[33.29,8.0],[33.31,9.0],[33.33,10.6],[33.34,8.0],[33.36,9.4],[33.38,7.4],[33.39,10.4],[33.41,8.6],[33.43,11.0],[33.44,9.4],[33.46,12.0],[33.48,10.6],[33.5,11.8],[33.51,13.5],[33.53,10.8],[33.55,12.2],[33.57,13.6],[33.59,12.0],[33.61,12.6],[33.63,11.4],[33.66,14.0],[33.69,13.0],[33.71,11.0],[33.75,12.6],[33.8,13.7],[33.84,14.2],[33.88,12.9],
[31.7,1.6],[31.76,0.4],[31.8,1.4],[31.82,2.6],[31.85,0.5],[31.87,2.0],[31.9,3.0],[31.93,1.5],[31.95,2.6],[31.97,3.6],[32.0,2.2],[32.02,3.3],[32.04,0.9],[32.06,3.8],[32.08,1.6],[32.1,2.6],[32.12,3.9],[32.14,1.8],[32.16,4.4],[32.18,2.9],[32.2,3.8],[32.22,2.2],[32.24,4.7],[32.26,3.0],[32.28,1.0],[32.3,3.4],[32.32,4.5],[32.34,3.0],[32.36,1.4],[32.38,3.3],[32.4,2.2],[32.42,4.8],[32.44,3.2],[32.46,2.3],[32.48,4.4],[32.5,3.3],[32.52,2.6],[32.54,0.8],[32.56,4.1],[32.58,3.0],[32.6,1.9],[32.62,3.2],[32.64,1.4],[32.66,3.2],[32.7,3.5],[32.74,5.3],[32.76,8.2],[32.8,6.0],[32.86,8.3],[32.92,7.2],[32.98,7.0]
];

const julNitrate = [
[30.16,0.1],[30.33,2.6],[30.66,0.1],[30.69,0.1],[30.71,0.1],[30.88,0.1],[30.95,0.1],[30.98,0.1],[31.05,0.1],[31.13,0.2],[31.17,0.1],[31.17,0.5],[31.22,0.1],[31.26,0.1],[31.29,2.6],[31.3,0.1],[31.33,0.1],[31.37,0.1],[31.4,0.1],[31.43,0.3],[31.45,0.1],[31.48,0.1],[31.5,1.0],[31.5,0.1],[31.53,0.1],[31.56,0.1],[31.6,0.1],[31.58,2.7],[31.62,2.0],[31.63,0.9],[31.65,0.1],[31.66,3.0],[31.68,0.1],[31.7,0.1],[31.72,1.6],[31.72,2.4],[31.75,0.1],[31.76,2.8],[31.78,0.8],[31.8,0.1],[31.8,4.4],[31.82,2.2],[31.83,1.2],[31.85,0.1],[31.87,4.6],[31.88,3.0],[31.9,0.1],[31.9,1.8],[31.93,3.9],[31.94,0.1],[31.95,5.7],[31.97,2.5],[31.98,0.7],[32.0,0.1],[32.0,4.5],[32.0,5.5],[32.02,6.5],[32.03,3.2],[32.04,1.5],[32.05,0.1],[32.06,4.9],[32.07,7.2],[32.07,2.2],[32.08,5.8],[32.1,0.1],[32.1,3.7],[32.1,7.9],[32.12,6.3],[32.12,1.1],[32.13,4.5],[32.14,2.8],[32.15,0.1],[32.15,5.3],[32.16,7.0],[32.17,8.6],[32.18,3.8],[32.18,2.0],[32.2,0.1],[32.2,6.0],[32.2,4.8],[32.21,9.0],[32.22,7.6],[32.23,1.2],[32.24,3.2],[32.25,0.1],[32.25,5.5],[32.26,10.2],[32.27,8.3],[32.28,2.4],[32.28,6.8],[32.3,4.0],[32.3,0.1],[32.31,9.4],[32.32,1.4],[32.33,5.9],[32.33,7.5],[32.35,10.8],[32.35,0.1],[32.35,3.2],[32.37,8.6],[32.38,4.7],[32.38,6.6],[32.4,0.1],[32.4,2.2],[32.41,9.8],[32.42,5.5],[32.43,7.4],[32.44,11.0],[32.45,0.1],[32.45,3.6],[32.46,8.4],[32.47,1.5],[32.48,6.3],[32.5,10.2],[32.5,4.7],[32.5,2.7],[32.52,11.5],[32.52,7.5],[32.53,9.0],[32.55,5.5],[32.55,3.4],[32.56,6.8],[32.57,11.0],[32.58,8.3],[32.6,4.5],[32.6,12.0],[32.6,10.0],[32.62,6.2],[32.63,7.8],[32.64,9.2],[32.65,12.5],[32.65,5.3],[32.67,11.0],[32.68,4.0],[32.68,8.0],[32.7,6.3],[32.7,10.0],[32.72,12.6],[32.73,7.2],[32.75,9.0],[32.75,11.3],[32.77,6.0],[32.78,12.3],[32.8,8.2],[32.8,10.3],[32.82,13.2],[32.83,7.3],[32.85,11.0],[32.87,9.4],[32.88,12.2],[32.9,6.6],[32.9,8.5],[32.92,13.0],[32.93,10.3],[32.95,11.6],[32.97,7.5],[33.0,9.6],[33.0,12.5],[33.0,10.8],[33.02,8.4],[33.03,14.5],[33.05,11.2],[33.05,9.0],[33.07,13.6],[33.08,10.0],[33.1,8.8],[33.1,12.4],[33.13,14.6],[33.15,10.2],[33.15,11.8],[33.17,9.4],[33.2,13.5],[33.2,15.8],[33.22,10.6],[33.24,12.8],[33.25,16.0],[33.25,9.9],[33.27,14.3],[33.3,11.3],[33.32,13.0],[33.33,10.7],[33.35,15.6],[33.37,12.2],[33.4,14.2],[33.42,13.0],[33.45,11.5],[33.47,16.4],[33.48,14.0],[33.5,9.8],[33.5,12.6],[33.52,16.8],[33.55,13.8],[33.57,12.8],[33.6,16.0],[33.63,15.3],[33.65,13.5],[33.67,17.5],[33.7,16.5],[33.72,14.2],[33.75,16.0],[33.77,19.6],[33.8,17.0],[33.82,18.1],[33.85,14.2],[33.85,10.8],[33.88,12.4],[33.9,17.5],[33.92,12.4],[33.95,15.0],[33.95,12.4],[33.97,20.4],[33.98,16.5],[34.0,12.4],[34.03,17.5],[34.05,16.0],[34.08,18.5],[34.12,17.5],[34.17,18.9],[34.2,18.0],[34.18,16.3],[34.22,19.0],[34.23,17.5],[34.25,13.5],[34.25,18.5],[34.26,18.0],[34.28,19.0],[34.28,17.3],[34.3,18.2],[34.3,16.5],[34.31,17.7],[34.33,17.0],[34.33,18.6],[34.27,18.3],[34.29,18.6],[34.24,17.8],
[32.43,0.1],[32.46,0.1],[32.47,0.4],[31.92,0.1],[31.96,0.1],[32.02,0.1],[32.08,0.1],[32.12,0.1],[32.17,0.1],[32.22,0.1],[32.27,0.1],[32.32,0.1],[32.37,0.1],[32.42,0.1],[31.97,5.0],[32.03,4.2],[32.05,5.6],[32.09,4.9],[32.11,5.6],[32.14,3.6],[32.16,4.4],[32.19,5.2],[32.22,3.9],[32.24,5.0],[32.26,6.1],[32.27,4.5],[32.29,5.6],[32.31,7.2],[32.33,3.9],[32.35,6.2],[32.36,5.2],[32.39,7.0],[32.4,4.2],[32.42,8.2],[32.44,5.2],[32.46,6.9],[32.48,9.2],[32.5,6.0],[32.53,7.0],[32.55,8.4],[32.58,6.0],[32.6,7.0],[32.62,9.0],[32.66,7.0],[32.72,9.0],[32.75,8.0],[32.78,10.8],[32.83,9.4],[32.88,10.4],[32.93,11.6],[33.03,10.2],[33.1,10.7],[33.15,9.2]
];

const julNitrateDense = [
[31.42,0.1],[31.44,0.1],[31.47,0.2],[31.52,0.2],[31.55,0.2],[31.58,0.2],[31.61,0.2],[31.64,0.1],[31.67,0.2],[31.69,0.1],[31.71,0.2],[31.73,0.1],[31.74,1.0],[31.76,0.2],[31.77,1.7],[31.79,0.1],[31.81,0.2],[31.81,3.2],[31.83,0.1],[31.84,2.6],[31.86,0.2],[31.86,1.4],[31.88,0.1],[31.89,3.8],[31.91,0.2],[31.92,1.4],[31.93,0.1],[31.94,2.8],[31.95,0.2],[31.96,4.4],[31.97,0.1],[31.98,1.9],[31.99,3.4],[32.0,0.2],[32.01,1.0],[32.01,5.9],[32.03,0.2],[32.03,2.4],[32.04,4.0],[32.05,5.2],[32.06,0.2],[32.06,1.6],[32.07,3.3],[32.08,6.4],[32.09,0.2],[32.09,2.5],[32.1,4.4],[32.11,5.0],[32.12,0.2],[32.12,3.0],[32.13,6.9],[32.14,1.6],[32.14,7.7],[32.15,4.0],[32.16,0.2],[32.16,2.3],[32.17,5.9],[32.18,6.6],[32.18,1.0],[32.19,3.2],[32.19,8.0],[32.2,4.2],[32.2,7.2],[32.21,2.3],[32.21,5.5],[32.22,0.2],[32.22,6.4],[32.23,3.4],[32.23,8.4],[32.24,4.5],[32.24,5.9],[32.25,1.9],[32.25,7.0],[32.26,3.0],[32.26,9.2],[32.27,5.2],[32.27,0.2],[32.28,7.4],[32.28,4.0],[32.29,6.3],[32.29,8.0],[32.3,2.8],[32.3,5.0],[32.31,3.5],[32.31,6.0],[32.32,8.8],[32.32,0.2],[32.33,4.5],[32.33,6.7],[32.34,2.0],[32.34,10.0],[32.35,5.2],[32.35,7.9],[32.36,3.5],[32.36,9.0],[32.37,6.3],[32.37,0.2],[32.38,2.8],[32.38,8.0],[32.39,4.2],[32.39,5.6],[32.4,9.0],[32.4,7.3],[32.41,3.2],[32.41,6.0],[32.42,0.2],[32.42,4.6],[32.43,10.5],[32.43,8.2],[32.44,2.0],[32.44,6.3],[32.45,7.6],[32.45,9.4],[32.46,3.9],[32.46,5.6],[32.47,10.8],[32.47,0.1],[32.48,8.0],[32.48,2.7],[32.49,4.6],[32.49,7.0],[32.5,9.0],[32.5,5.6],[32.51,3.5],[32.51,11.0],[32.52,6.4],[32.52,8.6],[32.53,4.3],[32.53,10.0],[32.54,6.0],[32.54,11.8],[32.55,7.2],[32.55,9.8],[32.56,4.6],[32.56,8.4],[32.57,6.1],[32.58,10.4],[32.58,5.2],[32.59,11.7],[32.6,7.6],[32.6,9.0],[32.61,5.7],[32.62,10.8],[32.62,7.8],[32.63,12.2],[32.64,6.6],[32.65,8.6],[32.66,10.2],[32.66,5.2],[32.67,12.0],[32.68,9.2],[32.69,7.0],[32.7,11.2],[32.71,8.4],[32.71,12.2],[32.72,5.7],[32.73,10.2],[32.74,12.0],[32.75,6.7],[32.76,9.9],[32.77,11.5],[32.77,8.3],[32.79,12.6],[32.8,7.0],[32.81,9.3],[32.82,11.6],[32.83,12.4],[32.85,8.3],[32.86,12.6],[32.87,7.6],[32.88,11.0],[32.89,9.0],[32.9,12.4],[32.92,9.2],[32.94,8.2],[32.95,13.0],[32.96,9.8],[32.98,8.6],[32.99,10.6],[33.01,9.2],[33.03,13.0],[33.04,10.0],[33.06,12.2],[33.07,9.4],[33.09,10.6],[33.11,11.3],[33.12,9.8],[33.14,10.9],[33.16,12.4],[33.18,10.4],[33.19,11.2],[33.21,14.6],[33.23,11.4],[33.26,13.0],[33.28,12.2],[33.29,15.5],[33.31,14.3],[33.34,12.8],[33.36,14.5],[33.38,13.4],[33.41,15.2],[33.44,14.5],[33.46,13.2],[33.49,15.6],[33.53,17.0],[33.54,15.0],[33.56,16.7],[33.58,15.3],[33.61,14.8],[33.62,16.5],[33.64,16.4],[33.66,15.6],[33.68,16.8],[33.69,15.2],[33.71,17.2],[33.73,16.0],[33.74,16.8],[33.78,17.5],[33.83,17.0],[33.87,17.5],[33.91,18.0],[33.94,17.2],[34.0,17.8],[34.06,17.8],[34.1,18.3],[34.14,18.0],[34.16,17.0],[34.19,18.7],[34.21,17.7],[34.22,18.4],[34.24,19.0],[34.25,17.3],[34.26,18.8],[34.27,17.6],[34.28,18.4],[34.29,17.9],[34.3,19.0],[34.31,18.4],[34.32,18.0],[34.27,17.0],
[31.2,0.2],[31.24,0.1],[31.28,0.2],[31.31,0.1],[31.35,0.2],[31.38,0.2],[31.41,0.1],[31.46,0.2],[31.49,0.2],[31.54,0.1],[31.57,0.1],[31.59,0.2],[31.62,0.1],[31.66,0.1],[31.68,0.2],[31.7,0.2],[31.72,0.2],[31.74,0.2],[31.77,0.1],[31.78,0.2],[31.82,0.1],[31.84,0.2],[31.87,0.1],[31.89,0.1],[31.91,0.1],[31.95,0.1],[31.99,0.1],[32.02,0.2],[32.07,0.1],[32.11,0.1],[32.14,0.1],[32.19,0.1],[32.24,0.1],[32.29,0.1],[32.34,0.1],[32.39,0.1],[32.44,0.1],
[31.7,0.9],[31.75,1.4],[31.79,2.2],[31.83,3.0],[31.87,1.9],[31.9,3.0],[31.91,0.9],[31.94,1.8],[31.96,3.4],[31.98,4.8],[32.02,2.0],[32.02,5.2],[32.05,3.6],[32.07,1.0],[32.08,4.4],[32.1,6.6],[32.11,2.0],[32.13,5.4],[32.15,1.0],[32.15,6.3],[32.17,3.2],[32.18,4.8],[32.19,7.0],[32.2,2.6],[32.21,6.0],[32.22,4.6],[32.23,7.0],[32.24,2.4],[32.25,4.0],[32.26,5.7],[32.27,7.7],[32.28,3.0],[32.29,4.6],[32.3,7.0],[32.31,8.0],[32.32,5.2],[32.33,3.0],[32.34,6.2],[32.35,4.2],[32.36,7.3],[32.37,5.6],[32.38,9.4],[32.39,3.5],[32.4,6.4],[32.41,5.0],[32.42,7.6],[32.43,3.7],[32.44,8.8],[32.45,5.0],[32.46,7.6],[32.47,6.2],[32.48,4.2],[32.49,8.4],[32.5,7.8],[32.51,5.0],[32.52,10.0],[32.53,6.0],[32.54,7.6],[32.55,4.2],[32.56,10.6],[32.57,7.7],[32.58,6.8],[32.59,8.6],[32.61,9.8],[32.62,6.3],[32.64,11.0],[32.65,7.4],[32.67,9.6],[32.69,10.6],[32.72,8.0],[32.75,10.2],[32.78,9.0],[32.82,10.0],[32.86,10.2],[32.9,10.7],[32.95,10.5],[33.0,9.0],[33.03,9.0],[33.06,10.0],[33.09,9.4],[33.12,10.6],[33.17,10.9],[33.22,11.6],[33.28,13.5],[33.33,14.0],[33.38,14.5],[33.43,14.0],[33.6,15.4],[33.65,16.6],[33.7,15.8],[33.75,16.4],[33.8,16.0],[34.25,18.2],[34.27,18.0],[34.29,18.2],[34.31,18.0]
];

const julSilicate = [
[30.16,0.4],[30.33,4.3],[30.66,0.2],[30.7,0.6],[30.88,0.6],[30.94,0.5],[30.97,0.2],[31.02,0.0],[31.1,0.0],[31.13,0.7],[31.17,0.2],[31.17,3.3],[31.2,0.1],[31.25,0.1],[31.29,0.2],[31.3,3.3],[31.32,1.7],[31.35,0.1],[31.38,1.0],[31.4,2.9],[31.42,0.1],[31.45,6.0],[31.45,1.8],[31.47,3.7],[31.48,0.2],[31.52,2.2],[31.55,0.1],[31.55,6.9],[31.56,5.2],[31.58,8.3],[31.6,3.7],[31.6,0.9],[31.62,3.3],[31.65,7.6],[31.65,0.1],[31.67,7.0],[31.68,2.7],[31.7,7.2],[31.7,0.1],[31.72,1.7],[31.73,4.9],[31.75,11.4],[31.75,0.1],[31.76,3.3],[31.78,0.9],[31.8,11.1],[31.8,0.1],[31.82,2.3],[31.83,4.2],[31.85,0.1],[31.87,1.4],[31.9,5.6],[31.9,0.1],[31.92,3.0],[31.95,0.4],[31.97,2.1],[31.98,7.0],[32.0,4.6],[32.0,1.0],[32.0,8.0],[32.0,0.1],[32.02,5.9],[32.03,3.0],[32.03,8.7],[32.05,0.3],[32.05,2.0],[32.07,4.0],[32.08,1.1],[32.1,5.2],[32.1,0.1],[32.1,2.8],[32.12,9.0],[32.13,3.6],[32.14,1.7],[32.15,6.5],[32.15,0.2],[32.17,9.5],[32.18,4.4],[32.18,2.4],[32.2,7.7],[32.2,1.0],[32.2,3.2],[32.22,5.4],[32.23,11.4],[32.23,10.0],[32.24,0.6],[32.25,2.0],[32.25,4.0],[32.26,7.2],[32.27,3.0],[32.28,6.0],[32.3,1.2],[32.3,9.2],[32.3,4.8],[32.31,2.3],[32.33,3.5],[32.34,5.4],[32.35,7.0],[32.35,1.0],[32.36,10.9],[32.37,2.8],[32.38,16.0],[32.38,4.2],[32.4,6.2],[32.4,2.0],[32.42,8.0],[32.42,3.5],[32.43,16.3],[32.44,5.0],[32.45,13.0],[32.45,1.2],[32.46,7.0],[32.47,2.6],[32.48,4.2],[32.5,13.5],[32.5,11.3],[32.5,5.7],[32.5,3.2],[32.52,9.5],[32.53,7.0],[32.55,2.0],[32.55,4.6],[32.55,6.0],[32.57,9.8],[32.58,3.6],[32.6,8.0],[32.6,12.5],[32.6,5.0],[32.62,13.5],[32.62,6.5],[32.63,2.2],[32.64,4.2],[32.65,14.2],[32.65,10.3],[32.66,15.8],[32.66,7.5],[32.68,5.4],[32.7,12.8],[32.7,9.0],[32.7,3.8],[32.72,6.5],[32.75,15.9],[32.75,15.2],[32.75,13.5],[32.75,5.0],[32.76,8.4],[32.78,11.2],[32.8,12.2],[32.8,7.0],[32.82,10.0],[32.83,13.0],[32.85,14.5],[32.85,6.2],[32.87,11.8],[32.88,8.4],[32.9,10.2],[32.9,15.3],[32.9,5.7],[32.92,7.3],[32.95,12.7],[32.95,9.0],[32.98,13.0],[33.0,16.3],[33.0,6.6],[33.02,8.6],[33.03,11.8],[33.03,14.5],[33.03,17.0],[33.04,18.3],[33.03,19.7],[33.05,9.6],[33.06,19.0],[33.08,7.6],[33.1,9.0],[33.12,12.0],[33.12,13.8],[33.13,18.0],[33.13,19.4],[33.15,7.8],[33.17,8.5],[33.18,16.0],[33.2,11.0],[33.2,21.4],[33.22,15.0],[33.24,10.6],[33.25,20.2],[33.27,22.0],[33.27,12.7],[33.28,9.2],[33.3,11.5],[33.32,19.8],[33.33,7.7],[33.35,16.4],[33.35,17.2],[33.35,20.7],[33.37,15.0],[33.38,13.8],[33.4,10.7],[33.42,8.4],[33.43,19.6],[33.45,11.0],[33.48,16.2],[33.5,21.2],[33.5,13.8],[33.52,9.9],[33.54,15.3],[33.55,19.8],[33.55,17.3],[33.57,11.5],[33.58,22.2],[33.6,17.0],[33.62,10.2],[33.65,15.0],[33.67,20.2],[33.68,13.5],[33.7,16.2],[33.72,11.2],[33.73,24.6],[33.73,17.3],[33.75,22.0],[33.77,19.7],[33.78,15.5],[33.8,16.8],[33.82,22.7],[33.84,11.2],[33.85,25.6],[33.85,15.0],[33.87,19.8],[33.9,16.3],[33.92,18.9],[33.93,11.2],[33.95,20.5],[33.97,11.4],[33.98,24.2],[34.0,19.6],[34.0,13.0],[34.02,14.7],[34.05,19.0],[34.06,21.5],[34.08,18.5],[34.1,15.5],[34.12,13.8],[34.13,21.0],[34.15,20.0],[34.17,23.5],[34.18,15.2],[34.2,13.7],[34.22,19.4],[34.23,22.5],[34.25,12.7],[34.27,20.0],[34.27,18.3],[34.28,17.5],[34.28,21.5],[34.28,15.8],[34.3,14.2],[34.3,20.5],[34.3,16.0],[34.31,17.0],[34.31,21.8],[34.33,15.2],[34.33,15.5],[34.29,18.8],
[31.72,3.6],[31.74,0.2],[31.78,2.4],[31.82,0.1],[31.84,0.9],[31.88,0.2],[31.88,2.0],[31.92,0.9],[31.93,4.6],[31.95,2.3],[31.97,0.1],[31.99,3.5],[32.01,1.7],[32.03,4.3],[32.04,0.9],[32.06,3.1],[32.08,2.3],[32.09,0.2],[32.11,4.0],[32.12,1.6],[32.14,5.4],[32.15,3.0],[32.16,0.9],[32.17,4.0],[32.19,2.0],[32.19,5.6],[32.21,3.7],[32.22,1.5],[32.23,5.0],[32.25,3.0],[32.26,1.1],[32.27,6.0],[32.28,2.3],[32.29,4.3],[32.31,3.4],[32.32,5.7],[32.33,1.7],[32.34,2.6],[32.35,4.2],[32.37,6.3],[32.38,3.2],[32.39,1.5],[32.41,5.0],[32.42,2.3],[32.43,7.0],[32.44,3.6],[32.46,6.0],[32.48,3.0],[32.49,5.0],[32.51,4.0],[32.52,7.0],[32.54,5.4],[32.56,3.2],[32.58,6.2],[32.61,4.3],[32.63,7.3],[32.66,6.0],[32.69,4.6],[32.72,8.0],[32.74,6.0],[32.8,9.0],[32.84,7.5],[32.88,6.5],[33.0,8.5],[33.08,9.8],[33.1,7.3],[33.13,8.9],[33.22,11.5],[33.26,10.9],[33.38,10.2],[33.42,11.3],[33.46,10.0],[33.72,16.0],[33.74,16.4],[33.76,16.0]
];

const julSilicateDense = [
[31.2,0.3],[31.24,0.2],[31.28,0.1],[31.31,0.4],[31.33,0.1],[31.37,0.2],[31.4,0.1],[31.44,0.3],[31.46,0.1],[31.5,0.1],[31.53,0.3],[31.57,0.1],[31.59,0.3],[31.62,0.2],[31.63,0.1],[31.66,3.8],[31.68,0.2],[31.69,3.0],[31.71,0.2],[31.74,3.2],[31.76,0.1],[31.77,1.5],[31.79,0.2],[31.81,0.1],[31.83,0.2],[31.84,1.8],[31.86,0.2],[31.88,0.9],[31.89,0.1],[31.9,2.5],[31.92,0.2],[31.94,1.7],[31.96,0.3],[31.98,1.0],[31.99,0.1],[32.0,2.5],[32.02,0.2],[32.02,1.4],[32.04,2.2],[32.05,1.0],[32.06,0.1],[32.07,3.0],[32.08,1.8],[32.09,0.7],[32.1,3.6],[32.11,1.3],[32.12,2.4],[32.13,0.4],[32.13,4.7],[32.14,3.0],[32.15,1.1],[32.16,2.0],[32.17,5.0],[32.17,3.2],[32.18,1.3],[32.19,3.8],[32.2,2.0],[32.2,6.0],[32.21,4.4],[32.22,2.5],[32.22,0.8],[32.23,3.4],[32.24,5.6],[32.24,1.7],[32.25,6.3],[32.26,2.5],[32.26,4.6],[32.27,3.8],[32.27,7.0],[32.28,1.1],[32.28,5.2],[32.29,3.0],[32.3,6.0],[32.3,3.7],[32.31,1.7],[32.31,4.8],[32.32,2.7],[32.32,7.2],[32.33,6.2],[32.33,4.1],[32.34,1.4],[32.34,3.0],[32.35,5.1],[32.36,2.2],[32.36,6.4],[32.37,3.8],[32.37,4.6],[32.38,1.9],[32.38,7.3],[32.39,3.0],[32.39,5.5],[32.4,4.2],[32.4,6.9],[32.41,2.5],[32.41,3.6],[32.42,5.8],[32.43,4.4],[32.43,2.5],[32.44,6.6],[32.44,3.4],[32.45,5.2],[32.45,8.0],[32.46,4.2],[32.46,2.4],[32.47,6.2],[32.47,3.6],[32.48,7.2],[32.48,5.0],[32.49,3.3],[32.5,8.2],[32.5,6.4],[32.51,4.4],[32.52,5.5],[32.53,3.6],[32.53,8.8],[32.54,6.3],[32.54,4.6],[32.55,7.5],[32.56,5.3],[32.56,9.0],[32.57,4.0],[32.58,7.4],[32.58,10.2],[32.59,5.4],[32.6,6.6],[32.61,8.6],[32.62,5.5],[32.63,10.0],[32.64,6.6],[32.65,5.2],[32.66,8.8],[32.67,11.2],[32.67,6.0],[32.68,9.4],[32.69,7.4],[32.7,5.6],[32.71,10.6],[32.72,7.8],[32.72,9.2],[32.74,10.4],[32.75,12.2],[32.75,7.0],[32.76,11.2],[32.77,12.8],[32.77,6.4],[32.78,9.4],[32.79,13.4],[32.8,11.2],[32.8,7.8],[32.81,14.0],[32.82,8.6],[32.83,6.4],[32.84,9.4],[32.85,12.6],[32.86,7.0],[32.87,8.0],[32.89,9.2],[32.91,7.0],[32.93,8.4],[32.94,6.5],[32.96,8.0],[32.97,9.6],[32.99,7.1],[33.01,7.8],[33.02,9.5],[33.04,7.2],[33.06,8.4],[33.07,6.9],[33.09,8.0],[33.11,7.5],[33.14,8.2],[33.16,9.5],[33.19,11.6],[33.21,10.4],[33.23,11.9],[33.25,11.0],[33.28,10.6],[33.3,12.0],[33.32,11.2],[33.34,10.6],[33.36,11.6],[33.39,9.6],[33.41,10.2],[33.44,11.5],[33.47,10.6],[33.49,11.2],[33.51,12.0],[33.53,11.0],[33.6,11.2],[33.62,16.0],[33.64,14.5],[33.66,16.4],[33.68,17.0],[33.7,15.6],[33.72,17.6],[33.74,15.2],[33.76,19.4],[33.78,16.4],[33.8,15.6],[33.88,18.4],[33.89,15.8],[33.9,19.0],[34.0,18.0],[34.08,20.2],[34.13,20.6],[34.16,19.0],[34.18,20.4],[34.2,15.0],[34.24,20.3],[34.26,16.0],[34.27,15.2],[34.28,16.7],[34.29,17.8],[34.29,15.4],[34.3,19.2],[34.3,17.4],[34.31,15.9],[34.32,20.0],[34.33,14.9],
[31.6,0.3],[31.64,3.8],[31.7,2.4],[31.74,1.2],[31.78,3.7],[31.82,1.4],[31.86,3.0],[31.88,1.2],[31.92,2.0],[31.94,3.6],[31.96,1.2],[31.98,3.0],[32.0,1.8],[32.02,3.6],[32.04,0.6],[32.06,1.6],[32.08,3.6],[32.1,1.8],[32.12,3.3],[32.14,2.4],[32.15,4.4],[32.16,3.4],[32.18,5.2],[32.19,2.8],[32.2,4.8],[32.21,1.5],[32.22,3.0],[32.23,6.4],[32.24,4.4],[32.25,2.8],[32.26,5.4],[32.27,3.4],[32.28,4.4],[32.29,6.6],[32.3,2.0],[32.31,5.6],[32.32,3.4],[32.33,5.0],[32.34,6.8],[32.35,2.8],[32.36,4.6],[32.37,5.4],[32.38,3.6],[32.39,6.2],[32.4,3.0],[32.41,5.6],[32.42,4.2],[32.43,6.4],[32.44,7.4],[32.45,3.8],[32.46,5.2],[32.47,7.8],[32.48,3.6],[32.49,6.0],[32.5,4.6],[32.52,6.6],[32.53,5.0],[32.55,5.2],[32.57,7.0],[32.59,6.0],[32.62,7.6],[32.64,5.4],[32.66,7.0],[32.68,8.0],[32.7,6.6],[32.73,8.4],[32.76,7.0],[32.78,6.2],[32.8,8.6],[32.85,8.0],[32.88,7.4],[32.9,8.8],[32.93,7.6],[32.96,9.0],[32.99,8.0],[33.01,9.0],[33.03,7.6],[33.05,8.8],[33.08,8.8],[33.11,9.4],[33.13,7.6],[33.16,8.0],[33.19,10.4],[33.21,12.2],[33.24,11.4],[33.27,10.4],[33.31,10.8],[33.34,11.8],[33.37,11.0],[33.4,11.8],[33.43,10.2],[33.46,11.0],[33.49,10.4],[33.52,11.4],[33.68,15.6],[33.72,14.8],[33.76,17.0],[33.8,14.8],[33.82,16.2],[33.86,16.6]
];

const panels = [
  { label: 'NO2+NO3 (uM)', sub: '2', data: aprNitrate.concat(aprNitrateDense), x0: 107, x1: 473, y0: 281, y1: 61, axis: '#808080', fs: 26, yPad: 15, xPad: 17,
    labelX: 35, labelY: 267, labelLen: 182,
    notes: [['April-May 2000', 116, 97, 187], ['N = 991', 163, 135, 95]] },
  { label: 'Si(OH)4 (uM)', sub: '4', data: aprSilicate.concat(aprSilicateDense), x0: 591.5, x1: 958.5, y0: 279, y1: 59, axis: '#808080', fs: 26, yPad: 15, xPad: 18,
    labelX: 526, labelY: 235, labelLen: 155,
    notes: [['April-May 2000', 614, 88, 188], ['N = 991', 661, 126, 96]] },
  { label: 'NO2+NO3 (uM)', sub: '2', data: junNitrate.concat(junNitrateDense), x0: 118.5, x1: 481.5, y0: 569.5, y1: 352.5, axis: '#909090', fs: 23, yPad: 13, xPad: 16,
    labelX: 40, labelY: 547, labelLen: 184,
    notes: [['June 2000', 126, 381, 116], ['N = 944', 141, 418, 86]] },
  { label: 'Si(OH)4 (uM)', sub: '4', data: junSilicate.concat(junSilicateDense), x0: 597.5, x1: 960, y0: 572, y1: 354, axis: '#404040', fs: 23, yPad: 13, xPad: 16,
    labelX: 529, labelY: 540, labelLen: 157,
    notes: [['June 2000', 607, 385, 111], ['N = 944', 620, 423, 83]] },
  { label: 'NO2+NO3 (uM)', sub: '2', data: julNitrate.concat(julNitrateDense), x0: 120.5, x1: 487, y0: 847, y1: 627, axis: '#808080', fs: 26, yPad: 16, xPad: 18,
    labelX: 50, labelY: 837, labelLen: 183,
    notes: [['July 2001', 130, 659, 116], ['N = 1276', 130, 696, 113]] },
  { label: 'Si(OH)4 (uM)', sub: '4', data: julSilicate.concat(julSilicateDense), x0: 600.5, x1: 967, y0: 844, y1: 624, axis: '#808080', fs: 26, yPad: 16, xPad: 19,
    labelX: 534, labelY: 815, labelLen: 153,
    notes: [['July 2001', 620, 654, 116], ['N = 1276', 620, 691, 113]] }
];

const svg = d3.select('#chart')
    .append('svg')
    .attr('width', 985)
    .attr('height', 931);

// text stretched to the measured width, the picture is a bit wider than tall
function putText(str, x, y, size, len) {
    return svg.append('text')
        .attr('x', x)
        .attr('y', y)
        .attr('font-size', size)
        .attr('textLength', len)
        .attr('lengthAdjust', 'spacingAndGlyphs')
        .text(str);
}

putText('Nitrate + Nitrite', 183, 36, 31, 212);
putText('Silicate', 696, 32, 31, 101);
putText('Salinity (ppt)', 227, 923, 29, 155);
putText('Salinity (ppt)', 707, 920, 29, 155);

panels.forEach(p => {
    const x = d3.scaleLinear().domain([30, 35]).range([p.x0, p.x1]);
    const y = d3.scaleLinear().domain([0, 30]).range([p.y0, p.y1]);

    svg.append('rect')
        .attr('x', p.x0)
        .attr('y', p.y1)
        .attr('width', p.x1 - p.x0)
        .attr('height', p.y0 - p.y1)
        .attr('fill', 'none')
        .attr('stroke', p.axis)
        .attr('stroke-width', 1.2);

    const gx = svg.append('g')
        .attr('transform', `translate(0,${p.y0})`)
        .call(d3.axisBottom(x).tickValues(xTicks).tickFormat(d3.format('d')).tickSize(5).tickPadding(p.xPad));
    const gy = svg.append('g')
        .attr('transform', `translate(${p.x0},0)`)
        .call(d3.axisLeft(y).tickValues(yTicks).tickFormat(d3.format('d')).tickSize(5).tickPadding(p.yPad));

    [gx, gy].forEach(g => {
        g.selectAll('path, line').attr('stroke', p.axis).attr('stroke-width', 1.2);
        g.selectAll('text').attr('font-size', p.fs).attr('fill', '#111')
            .style('font-family', '"Liberation Sans", Arial, sans-serif');
    });

    svg.append('g')
        .selectAll('circle')
        .data(p.data)
        .join('circle')
        .attr('cx', d => x(d[0]))
        .attr('cy', d => y(d[1]))
        .attr('r', 3.8)
        .attr('fill', 'none')
        .attr('stroke', '#141414')
        .attr('stroke-width', 0.8);

    p.notes.forEach(n => putText(n[0], n[1], n[2], p.fs + 2, n[3]));

    // rotated axis title, only the first digit is set as a subscript
    const parts = p.label.split(p.sub);
    const title = svg.append('text')
        .attr('transform', `translate(${p.labelX},${p.labelY}) rotate(-90)`)
        .attr('font-size', p.fs + 1)
        .attr('textLength', p.labelLen)
        .attr('lengthAdjust', 'spacingAndGlyphs');
    title.append('tspan').text(parts[0]);
    title.append('tspan').attr('dy', 6).text(p.sub);
    title.append('tspan').attr('dy', -6).text(parts.slice(1).join(p.sub));
});
</script>
</body>
</html>
